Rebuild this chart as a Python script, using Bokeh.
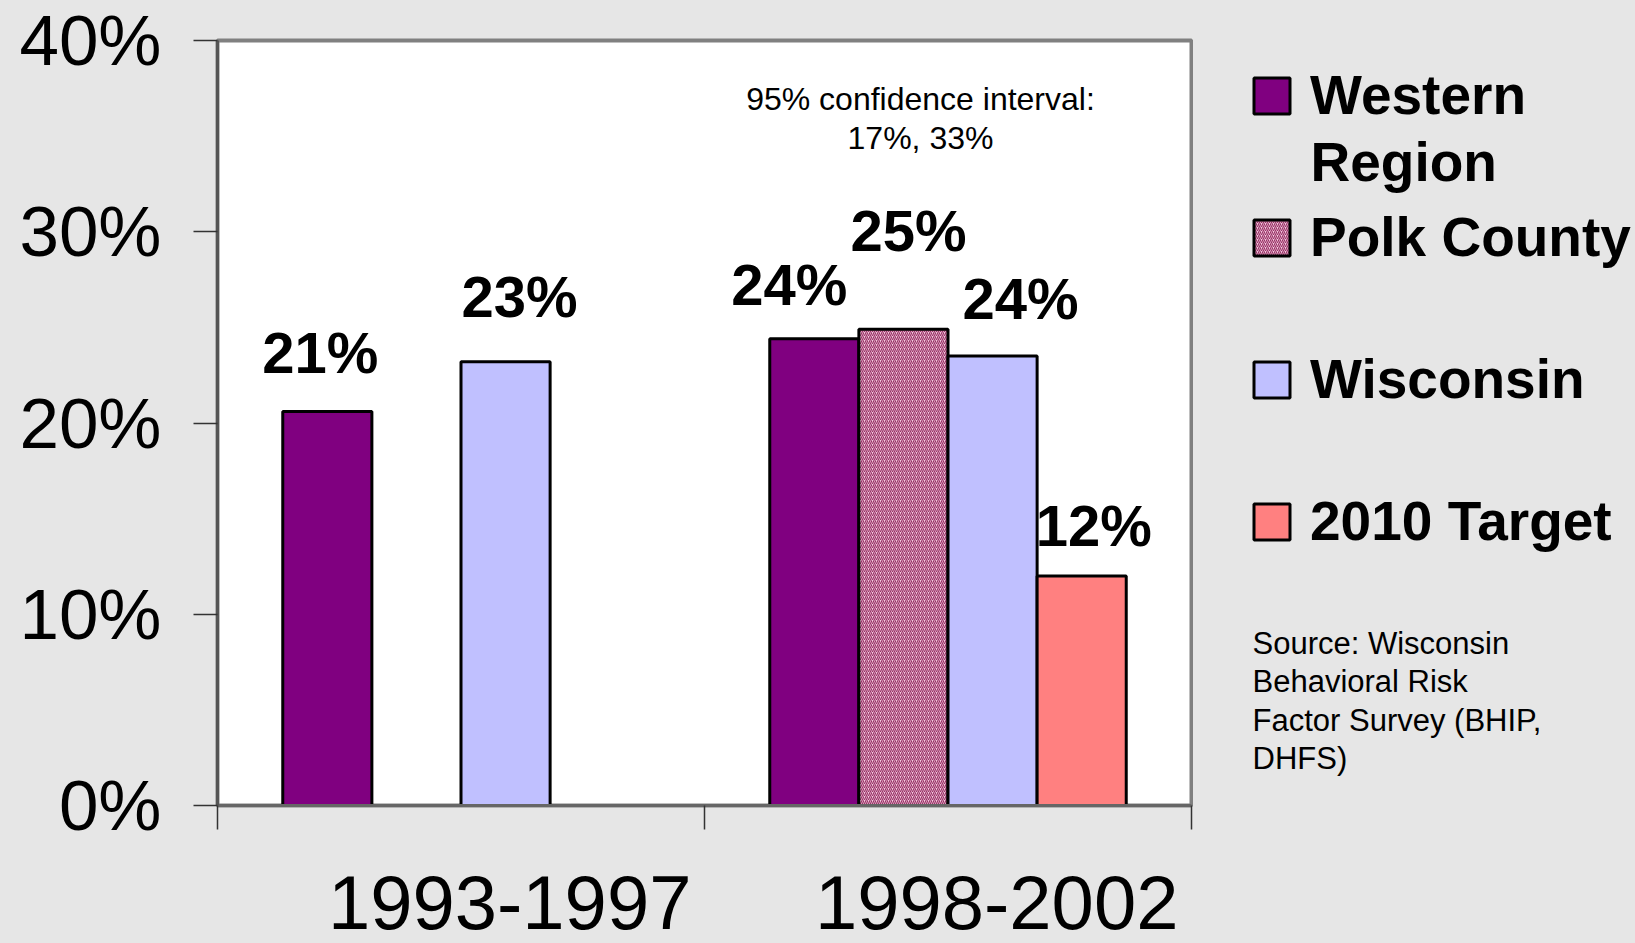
from bokeh.plotting import figure
from bokeh.models import (ColumnDataSource, FixedTicker, PrintfTickFormatter,
                          LinearAxis, Legend, LegendItem, Label, Range1d)
from bokeh.layouts import row
from bokeh.core.properties import value
from bokeh.embed import file_html
from bokeh.resources import INLINE

# ---------------- data ----------------
periods = ["1993-1997", "1998-2002"]
series = ["Western Region", "Polk County", "Wisconsin", "2010 Target"]
western = [20.6, 24.4]
polk = [None, 24.9]
wisconsin = [23.2, 23.5]
target = [None, 12.0]
western_labels = ["21%", "24%"]
polk_labels = [None, "25%"]
wisconsin_labels = ["23%", "24%"]
target_labels = [None, "12%"]
y_ticks = [0, 10, 20, 30, 40]
ci_text = "95% confidence interval:\n17%, 33%"
source_text = "Source: Wisconsin\nBehavioral Risk\nFactor Survey (BHIP,\nDHFS)"

# ---------------- styles ----------------
BG = "#e6e6e6"
FONT = "Liberation Sans"
W, H = 1635, 943
LEFT_W = 1193
TOP_B, BOT_B = 40, 138
FRAME_H = H - TOP_B - BOT_B
bar_w = 0.183
offsets = [-1.5 * bar_w, -0.5 * bar_w, 0.5 * bar_w, 1.5 * bar_w]
fills = ["#800080", "#f2c8de", "#c0c0ff", "#ff8080"]
hatches = [None, "/", None, None]
# label nudges (px) relative to bar top centre
nudge_x = [[-7, -25], [0, 5], [14, 28], [0, 12]]
nudge_y = [[59, 54], [0, 99], [65, 58], [0, 51]]

p = figure(width=LEFT_W, height=H, output_backend="svg", toolbar_location=None,
           x_range=Range1d(0, 2), y_range=Range1d(0, 40),
           min_border_left=217, min_border_right=2, min_border_top=TOP_B, min_border_bottom=BOT_B,
           background_fill_color="white", border_fill_color=BG,
           outline_line_color="#808080", outline_line_width=4)
p.grid.visible = False
p.xaxis.visible = False
p.yaxis.visible = False

# y axis
yax = LinearAxis(ticker=FixedTicker(ticks=y_ticks), formatter=PrintfTickFormatter(format="%d%%"),
                 major_tick_out=24, major_tick_in=0, minor_tick_out=0, minor_tick_in=0,
                 major_label_standoff=32, axis_line_color="#555555", axis_line_width=3,
                 major_tick_line_color="#333333", major_tick_line_width=1.5,
                 major_label_text_font=FONT, major_label_text_font_size="71px",
                 major_label_text_color="black")
p.add_layout(yax, "left")

# x axis: labels at shifted centres, boundary ticks drawn as minor ticks
label_shift = 0.1
label_pos = [i + 0.5 + label_shift for i in range(len(periods))]
xax = LinearAxis(ticker=FixedTicker(ticks=label_pos, minor_ticks=list(range(len(periods) + 1))),
                 major_label_overrides={pos: name for pos, name in zip(label_pos, periods)},
                 major_tick_out=0, major_tick_in=0, minor_tick_out=24, minor_tick_in=0,
                 minor_tick_line_color="#333333", minor_tick_line_width=1.5,
                 axis_line_color="#666666", axis_line_width=3,
                 major_label_standoff=46, major_label_text_font=FONT,
                 major_label_text_font_size="76px", major_label_text_color="black")
p.add_layout(xax, "below")

all_vals = [western, polk, wisconsin, target]
all_labels = [western_labels, polk_labels, wisconsin_labels, target_labels]
bar_styles = []
for k, (vals, labs) in enumerate(zip(all_vals, all_labels)):
    xs, ys, ts, dx, dy = [], [], [], [], []
    for i, v in enumerate(vals):
        if v is None:
            continue
        xs.append(i + 0.5 + offsets[k])
        ys.append(v)
        ts.append(labs[i])
        dx.append(nudge_x[k][i])
        dy.append(-nudge_y[k][i])
    src = ColumnDataSource(dict(x=xs, top=ys, text=ts, dx=dx, dy=dy))
    kw = dict(fill_color=fills[k], line_color="black", line_width=3)
    if hatches[k]:
        kw.update(hatch_pattern=hatches[k], hatch_color="#993366", hatch_scale=4, hatch_weight=1.2)
    bar_styles.append(kw)
    p.vbar(x="x", top="top", width=bar_w, bottom=0, source=src, **kw)
    p.text(x="x", y="top", text="text", x_offset="dx", y_offset="dy", source=src,
           text_align="center", text_baseline="alphabetic", text_font=value(FONT),
           text_font_size="58px", text_font_style="bold", text_color="black")

p.add_layout(Label(x=1.4435, y=37.9, text=ci_text, text_align="center", text_baseline="top",
                   text_font=FONT, text_font_size="32px", text_color="black",
                   text_line_height=1.1))

# ---------------- right-hand panel: legend + source ----------------
# (its frame is aligned with the chart frame: y = px above the chart's baseline)
RW = W - LEFT_W
q = figure(width=RW, height=H, output_backend="svg", toolbar_location=None,
           x_range=Range1d(0, RW), y_range=Range1d(0, FRAME_H),
           min_border_left=0, min_border_right=0, min_border_top=TOP_B, min_border_bottom=BOT_B,
           background_fill_color=BG, border_fill_color=BG, outline_line_color=None)
q.axis.visible = False
q.grid.visible = False

items = []
nan = float("nan")
for k, name in enumerate(series):
    first_line = name.split(" ")[0] if k == 0 else name
    r = q.vbar(x=[nan], top=[nan], width=1, **bar_styles[k])
    items.append(LegendItem(label=first_line, renderers=[r]))

ITEM_H, SPACING = 100, 42
legend_h = 4 * ITEM_H + 3 * SPACING
legend_top_px = 45 - TOP_B          # below frame top
legend = Legend(items=items, location=(56, FRAME_H - legend_top_px - legend_h),
                orientation="vertical",
                glyph_width=45, glyph_height=45, label_standoff=16, spacing=SPACING,
                label_height=ITEM_H, label_text_font=FONT, label_text_font_size="55px",
                label_text_font_style="bold", label_text_color="black",
                border_line_color=None, background_fill_alpha=0, margin=0, padding=0)
q.add_layout(legend, "center")

# second line of the first legend entry
q.add_layout(Label(x=117, y=FRAME_H - legend_top_px - ITEM_H / 2 - 66.7,
                   text=series[0].split(" ")[1],
                   text_align="left", text_baseline="middle", text_font=FONT,
                   text_font_size="55px", text_font_style="bold", text_color="black"))

q.add_layout(Label(x=59, y=180, text=source_text, text_align="left", text_baseline="top",
                   text_font=FONT, text_font_size="31px", text_color="black",
                   text_line_height=1.1))

layout = row(p, q, spacing=0, styles={"background-color": BG})
open("out.html", "w").write(file_html(layout, INLINE))
